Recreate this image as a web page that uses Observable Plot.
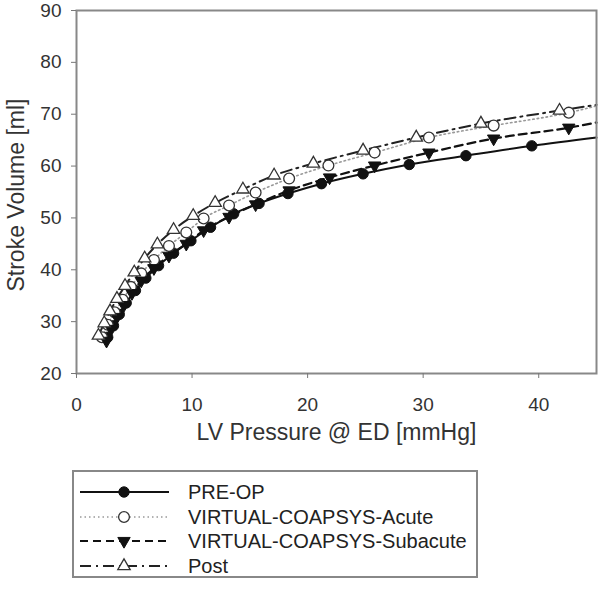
<!DOCTYPE html>
<html>
<head>
<meta charset="utf-8">
<script src="https://cdn.jsdelivr.net/npm/d3@7"></script>
<script src="https://cdn.jsdelivr.net/npm/@observablehq/plot@0.6"></script>
<style>
  body { margin: 0; background: #fff; }
  #wrap { position: relative; width: 601px; height: 591px; font-family: "Liberation Sans", Arial, sans-serif; }
  #legend { position: absolute; left: 72px; top: 470px; width: 406px; height: 108px; border: 2px solid #888; box-sizing: border-box; }
  .row { position: absolute; left: 0; height: 24px; display: flex; align-items: center; }
  .row span { font-size: 20px; color: #222; margin-left: 14px; line-height: 24px; }
</style>
</head>
<body>
<div id="wrap"><div id="chart"></div><div id="legend"></div></div>
<script>
// ---- data ----
const seriesNames = ["PRE-OP", "VIRTUAL-COAPSYS-Acute", "VIRTUAL-COAPSYS-Subacute", "Post"];

const preX = [2.7, 3.2, 3.7, 4.3, 5.1, 6.0, 7.1, 8.4, 9.9, 11.6, 13.6, 15.8, 18.3, 21.2, 24.8, 28.8, 33.7, 39.4];
const preY = [27.0, 29.2, 31.4, 33.6, 36.0, 38.4, 40.8, 43.2, 45.6, 48.2, 50.8, 52.8, 54.7, 56.6, 58.5, 60.3, 62.0, 63.9];
const preEnd = 65.5;

const acuteX = [2.2, 2.7, 3.3, 4.0, 4.7, 5.6, 6.7, 8.0, 9.5, 11.0, 13.2, 15.5, 18.4, 21.8, 25.8, 30.5, 36.1, 42.6];
const acuteY = [27.0, 29.4, 31.8, 34.2, 36.7, 39.3, 41.9, 44.6, 47.2, 49.9, 52.4, 54.9, 57.6, 60.1, 62.6, 65.5, 67.8, 70.3];
const acuteEnd = 71.6;

const subX = [2.6, 3.0, 3.5, 4.1, 4.8, 5.6, 6.7, 8.0, 9.5, 11.0, 13.2, 15.5, 18.4, 21.9, 25.8, 30.5, 36.1, 42.6];
const subY = [26.3, 28.6, 30.9, 33.2, 35.5, 37.9, 40.3, 42.7, 45.0, 47.6, 50.2, 52.6, 55.3, 57.8, 60.1, 62.6, 65.3, 67.4];
const subEnd = 68.4;

const postX = [1.9, 2.4, 2.9, 3.5, 4.2, 5.0, 5.9, 7.0, 8.4, 10.1, 12.0, 14.4, 17.1, 20.5, 24.8, 29.4, 35.0, 41.8];
const postY = [27.3, 29.7, 32.0, 34.4, 36.9, 39.5, 42.2, 44.9, 47.7, 50.4, 52.9, 55.5, 58.2, 60.5, 63.0, 65.5, 68.2, 70.7];
const postEnd = 71.8;

const xTicks = [0, 10, 20, 30, 40];
const yTicks = [20, 30, 40, 50, 60, 70, 80, 90];
const xTitle = "LV Pressure @ ED [mmHg]";
const yTitle = "Stroke Volume [ml]";
const xMax = 45;

// ---- symbols ----
const triDown = {
  draw(ctx, size) {
    const a = Math.sqrt(4 * size / Math.sqrt(3));
    const h = a * Math.sqrt(3) / 2;
    ctx.moveTo(-a / 2, -h / 3);
    ctx.lineTo(a / 2, -h / 3);
    ctx.lineTo(0, 2 * h / 3);
    ctx.closePath();
  }
};
const triUp = {
  draw(ctx, size) {
    const a = Math.sqrt(4 * size / Math.sqrt(3));
    const h = a * Math.sqrt(3) / 2;
    ctx.moveTo(-a / 2, h / 3);
    ctx.lineTo(a / 2, h / 3);
    ctx.lineTo(0, -2 * h / 3);
    ctx.closePath();
  }
};

const styles = [
  {xs: preX, ys: preY, end: preEnd, stroke: "#111", width: 2, dash: null, symbol: "circle", r: 5.2, fill: "#111", mstroke: "#111", mw: 1},
  {xs: acuteX, ys: acuteY, end: acuteEnd, stroke: "#999", width: 1.6, dash: "1.5,3", symbol: "circle", r: 5.4, fill: "#fff", mstroke: "#333", mw: 1.3},
  {xs: subX, ys: subY, end: subEnd, stroke: "#111", width: 2.2, dash: "8,5", symbol: triDown, r: 4.6, fill: "#111", mstroke: "#111", mw: 1},
  {xs: postX, ys: postY, end: postEnd, stroke: "#222", width: 2, dash: "11,5,2,5", symbol: triUp, r: 4.6, fill: "#fff", mstroke: "#333", mw: 1.3}
];

const lineMarks = [];
const dotMarks = [];
styles.forEach((s, i) => {
  const pts = s.xs.map((x, j) => ({x, y: s.ys[j]}));
  const linePts = pts.concat([{x: xMax, y: s.end}]);
  lineMarks.push(Plot.line(linePts, {x: "x", y: "y", stroke: s.stroke, strokeWidth: s.width, strokeDasharray: s.dash, curve: "monotone-x"}));
  dotMarks.push(Plot.dot(pts, {x: "x", y: "y", symbol: () => s.symbol, r: s.r, fill: s.fill, stroke: s.mstroke, strokeWidth: s.mw}));
});

const chart = Plot.plot({
  width: 601,
  height: 462,
  marginLeft: 76,
  marginRight: 5,
  marginTop: 10,
  marginBottom: 89,
  style: {fontFamily: "'Liberation Sans', Arial, sans-serif", color: "#333", background: "#fff"},
  x: {domain: [0, xMax]},
  y: {domain: [20, 90]},
  symbol: {type: "identity"},
  marks: [
    ...lineMarks,
    ...dotMarks,
    Plot.frame({stroke: "#888", strokeWidth: 2}),
    Plot.axisX({ticks: xTicks, tickSize: 5, tickPadding: 19, fontSize: 19, stroke: "#777", fill: "#333", label: null}),
    Plot.axisY({ticks: yTicks, tickSize: 5, tickPadding: 10, fontSize: 19, stroke: "#777", fill: "#333", label: null}),
    Plot.text([xTitle], {frameAnchor: "bottom", dy: 66, fontSize: 23, fill: "#333"}),
    Plot.text([yTitle], {frameAnchor: "left", dx: -60, dy: 3, rotate: -90, textAnchor: "middle", fontSize: 23, fill: "#333"})
  ]
});
document.getElementById("chart").appendChild(chart);

// ---- legend ----
const legend = d3.select("#legend");
styles.forEach((s, i) => {
  const row = legend.append("div").attr("class", "row").style("top", (22 + 24.5 * i - 12 - 2) + "px");
  const svg = row.append("svg").attr("width", 100).attr("height", 24);
  svg.append("line").attr("x1", 6).attr("x2", 95).attr("y1", 12).attr("y2", 12)
    .attr("stroke", s.stroke).attr("stroke-width", s.width)
    .attr("stroke-dasharray", s.dash);
  const size = Math.PI * s.r * s.r;
  const sym = s.symbol === "circle" ? d3.symbolCircle : s.symbol;
  svg.append("path").attr("transform", "translate(50,12)")
    .attr("d", d3.symbol(sym, size)())
    .attr("fill", s.fill).attr("stroke", s.mstroke).attr("stroke-width", s.mw);
  row.append("span").text(seriesNames[i]);
});
</script>
</body>
</html>
